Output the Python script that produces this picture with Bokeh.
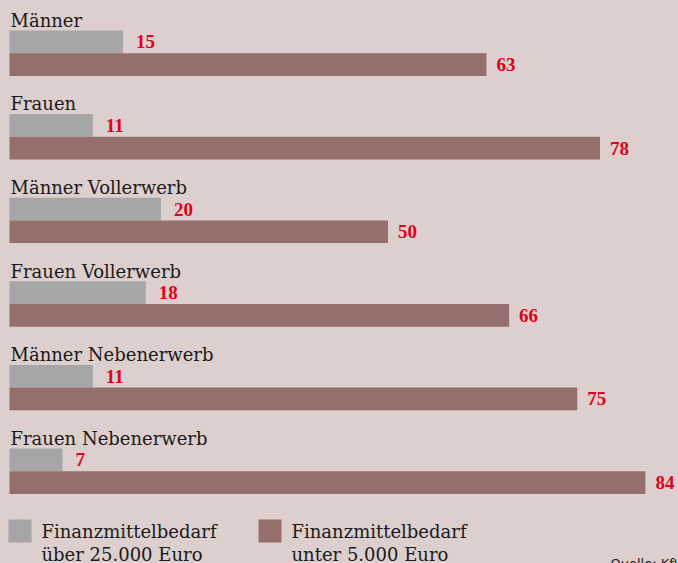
import re
from bokeh.plotting import figure
from bokeh.models import Range1d, ColumnDataSource
from bokeh.embed import file_html
from bokeh.resources import INLINE
from bokeh.core.properties import value

# ---- data ----
categories = ["Männer", "Frauen", "Männer Vollerwerb", "Frauen Vollerwerb",
              "Männer Nebenerwerb", "Frauen Nebenerwerb"]
over_25000 = [15, 11, 20, 18, 11, 7]
under_5000 = [63, 78, 50, 66, 75, 84]
series_labels = [["Finanzmittelbedarf", "über 25.000 Euro"],
                 ["Finanzmittelbedarf", "unter 5.000 Euro"]]
source_note = "Quelle: KfW"

# ---- style / layout ----
W, H = 678, 563
BG = "#dccfce"
GREY = "#a6a6a6"
BROWN = "#946f6b"
RED = "#e2001a"
INK = "#1a1a1a"
SERIF = "DejaVu Serif"
NUMFONT = "Liberation Serif"
series_colors = [GREY, BROWN]

PX_PER_UNIT = 7.57
X0 = 9
GROUP_TOP = 30.0
GROUP_STEP = 83.6
BAR_H = 22.7
BASE_FIX = 6  # the renderer puts alphabetic baselines this much lower


def dx(px):
    return (px - X0) / PX_PER_UNIT


p = figure(width=W, height=H, output_backend="svg", toolbar_location=None,
           x_range=Range1d(dx(0), dx(W)), y_range=Range1d(H, 0),
           min_border=0, x_axis_location=None, y_axis_location=None)
p.grid.visible = False
p.outline_line_color = None
p.background_fill_color = BG
p.border_fill_color = BG
p.styles = {"background-color": BG}

tops = [GROUP_TOP + i * GROUP_STEP for i in range(len(categories))]
y_grey = [t + BAR_H / 2 for t in tops]
y_brown = [t + BAR_H * 1.5 for t in tops]

src_g = ColumnDataSource(dict(y=y_grey, v=over_25000, lab=[str(v) for v in over_25000]))
src_b = ColumnDataSource(dict(y=y_brown, v=under_5000, lab=[str(v) for v in under_5000]))

p.hbar(y="y", left=0, right="v", height=BAR_H, source=src_g,
       fill_color=GREY, line_color=None)
p.hbar(y="y", left=0, right="v", height=BAR_H, source=src_b,
       fill_color=BROWN, line_color=None)

for src, xo in ((src_g, 13), (src_b, 10)):
    p.text(x="v", y="y", text="lab", source=src, x_offset=xo, y_offset=0,
           text_font=value(NUMFONT), text_font_style="bold",
           text_font_size="19px", text_color=RED,
           text_baseline="middle", text_align="left")

# category labels
src_c = ColumnDataSource(dict(x=[dx(10)] * len(categories),
                              y=[t - 4.3 - BASE_FIX for t in tops], t=categories))
p.text(x="x", y="y", text="t", source=src_c, text_font=value(SERIF),
       text_font_size="18px", text_color=INK, text_baseline="alphabetic",
       text_align="left")

# legend
sw_left = [8, 258]
for i, (col, lines) in enumerate(zip(series_colors, series_labels)):
    p.quad(left=[dx(sw_left[i])], right=[dx(sw_left[i] + 23)],
           top=[519], bottom=[542], fill_color=col, line_color=None)
    p.text(x=[dx(sw_left[i] + 33)] * 2, y=[537 - BASE_FIX, 559.5 - BASE_FIX], text=lines,
           text_font=value(SERIF), text_font_size="18px", text_color=INK,
           text_baseline="alphabetic", text_align="left")

# source note
p.text(x=[dx(610)], y=[569 - BASE_FIX], text=[source_note], text_font=value("DejaVu Sans"),
       text_font_size="13px", text_color=INK, text_baseline="alphabetic",
       text_align="left")

html = file_html(p, INLINE)
html = re.sub(r"<body[^>]*>", '<body style="margin:0;background:%s;">' % BG, html, count=1)
open("out.html", "w").write(html)
